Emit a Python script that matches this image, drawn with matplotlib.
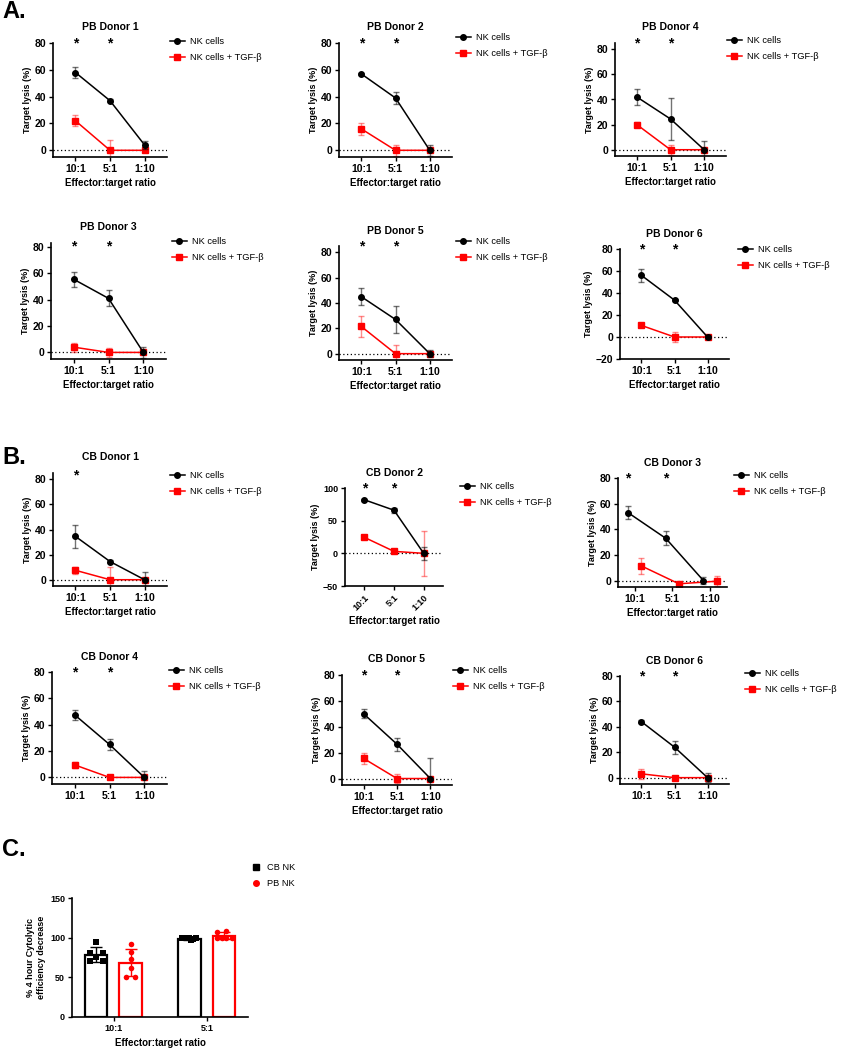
import numpy as np
import matplotlib.pyplot as plt
from matplotlib.lines import Line2D

plt.rcParams['font.family'] = ['Liberation Sans', 'DejaVu Sans']
plt.rcParams['font.weight'] = 'bold'
plt.rcParams['axes.labelweight'] = 'bold'

W, H = 843, 1050
fig = plt.figure(figsize=(W / 100, H / 100), dpi=100)

ratios = ['10:1', '5:1', '1:10']

# mean and error for NK cells and NK cells + TGF-b, per donor
pb1_nk, pb1_nk_err = [58, 37, 4], [4, 1, 3]
pb1_tgf, pb1_tgf_err = [22, 0, 0], [4, 8, 1]
pb2_nk, pb2_nk_err = [57, 39, 0], [1, 4.5, 4]
pb2_tgf, pb2_tgf_err = [16, 0, 0], [4.5, 4, 1]
pb4_nk, pb4_nk_err = [42, 24.5, 0], [6, 16.5, 7]
pb4_tgf, pb4_tgf_err = [20, 0, 0], [2, 4, 1]
pb3_nk, pb3_nk_err = [55.5, 41, 0], [5.5, 6, 4]
pb3_tgf, pb3_tgf_err = [4, 0, 0], [3.5, 3.5, 1]
pb5_nk, pb5_nk_err = [45, 27, 0], [6.5, 10.5, 3]
pb5_tgf, pb5_tgf_err = [21.5, 0, 0], [8.5, 6.5, 1]
pb6_nk, pb6_nk_err = [56, 33.5, 0], [6, 1, 0.5]
pb6_tgf, pb6_tgf_err = [10.5, 0, 0], [1.5, 4.5, 0.5]
cb1_nk, cb1_nk_err = [34.5, 14.5, 0], [9, 1, 6]
cb1_tgf, cb1_tgf_err = [7.5, 0, 0], [3, 10.5, 1]
cb2_nk, cb2_nk_err = [82, 66, 0], [1.5, 4, 10]
cb2_tgf, cb2_tgf_err = [24.5, 3, 0], [3, 3, 34]
cb3_nk, cb3_nk_err = [53, 33, 0], [5, 5.5, 3]
cb3_tgf, cb3_tgf_err = [11.5, -2.5, -0.5], [6, 1.5, 4]
cb4_nk, cb4_nk_err = [47.5, 25, 0], [4, 4.5, 5]
cb4_tgf, cb4_tgf_err = [9.5, 0, 0], [2.5, 0.5, 0.5]
cb5_nk, cb5_nk_err = [50, 26.5, 0], [3.5, 5, 15.5]
cb5_tgf, cb5_tgf_err = [15.5, 0, 0], [4, 3.5, 0.5]
cb6_nk, cb6_nk_err = [44, 24, 0], [1, 5, 3.5]
cb6_tgf, cb6_tgf_err = [3, 0, 0], [4, 1, 1]

# panel C: % decrease per donor
cb_10 = [94, 81, 81, 76, 70, 70]
pb_10 = [92, 82, 73, 62, 51, 51]
cb_5 = [100, 99, 100, 98, 99, 97]
pb_5 = [107, 109, 100, 100, 100, 100]
c_groups = ['10:1', '5:1']


def fig_rect(l, t, r, b):
    return [l / W, 1 - b / H, (r - l) / W, (b - t) / H]


def style_axes(ax, size=7.5):
    for s in ['top', 'right']:
        ax.spines[s].set_visible(False)
    for s in ['left', 'bottom']:
        ax.spines[s].set_linewidth(1.2)
    ax.tick_params(labelsize=size, width=1, length=3, pad=2)


def lysis_panel(title, nk, nk_err, tgf, tgf_err, box, ylim, yticks, stars, star_y,
                leg, xlim=(-0.65, 2.65), shift=0.0, xlabel=True, rotate=False):
    ax = fig.add_axes(fig_rect(*box))
    x = np.arange(len(ratios))
    ax.axhline(0, color='k', ls=(0, (1, 2)), lw=0.9, zorder=1)
    ax.errorbar(x + shift, tgf, yerr=tgf_err, color='#ff0000', marker='s', ms=4, lw=1.1,
                ecolor=(1, 0, 0, 0.45), elinewidth=1, capsize=2, capthick=1, zorder=2)
    ax.errorbar(x - shift, nk, yerr=nk_err, color='k', marker='o', ms=4, lw=1.1,
                ecolor=(0, 0, 0, 0.55), elinewidth=1, capsize=2, capthick=1, zorder=3)
    for i in stars:
        ax.text(x[i] - shift, star_y, '*', ha='center', va='center', fontsize=10,
                fontweight='bold')
    ax.set_xlim(*xlim)
    ax.set_ylim(*ylim)
    ax.set_yticks(yticks)
    ax.set_xticks(x)
    if rotate:
        ax.set_xticklabels(ratios, rotation=45, ha='right', rotation_mode='anchor')
        style_axes(ax, size=6.5)
    else:
        ax.set_xticklabels(ratios)
        style_axes(ax)
    ax.set_title(title, fontsize=7.5, fontweight='bold', pad=9)
    ax.set_ylabel('Target lysis (%)', fontsize=6.5, labelpad=2)
    if xlabel:
        ax.set_xlabel('Effector:target ratio', fontsize=7, labelpad=3)
    handles = [Line2D([], [], color='k', marker='o', ms=4, lw=1.1),
               Line2D([], [], color='#ff0000', marker='s', ms=4, lw=1.1)]
    fig.legend(handles, ['NK cells', 'NK cells + TGF-β'], loc='upper left',
               bbox_to_anchor=(leg[0] / W, 1 - leg[1] / H), frameon=False,
               prop={'weight': 'normal', 'size': 6.7}, handlelength=1.6,
               handletextpad=0.6, labelspacing=0.75, borderpad=0, borderaxespad=0)
    return ax


t80 = [0, 20, 40, 60, 80]

lysis_panel('PB Donor 1', pb1_nk, pb1_nk_err, pb1_tgf, pb1_tgf_err, (53, 43, 167, 157),
            (-5, 80), t80, [0, 1], 80, (170, 37))
lysis_panel('PB Donor 2', pb2_nk, pb2_nk_err, pb2_tgf, pb2_tgf_err, (339, 43, 452, 157),
            (-5, 80), t80, [0, 1], 80, (456, 33))
lysis_panel('PB Donor 4', pb4_nk, pb4_nk_err, pb4_tgf, pb4_tgf_err, (615, 43, 726, 156),
            (-5, 85), t80, [0, 1], 85, (727, 36))
lysis_panel('PB Donor 3', pb3_nk, pb3_nk_err, pb3_tgf, pb3_tgf_err, (51, 243, 166, 359),
            (-5, 83), t80, [0, 1], 80, (172, 237))
lysis_panel('PB Donor 5', pb5_nk, pb5_nk_err, pb5_tgf, pb5_tgf_err, (339, 246, 452, 360),
            (-5, 85), t80, [0, 1], 85, (456, 237))
lysis_panel('PB Donor 6', pb6_nk, pb6_nk_err, pb6_tgf, pb6_tgf_err, (620, 249, 729, 359),
            (-20, 80), [-20, 0, 20, 40, 60, 80], [0, 1], 80, (738, 245))
lysis_panel('CB Donor 1', cb1_nk, cb1_nk_err, cb1_tgf, cb1_tgf_err, (53, 473, 167, 586),
            (-5, 85), t80, [0], 83, (170, 471))
lysis_panel('CB Donor 2', cb2_nk, cb2_nk_err, cb2_tgf, cb2_tgf_err, (345, 488, 443, 586),
            (-50, 100), [-50, 0, 50, 100], [0, 1], 100, (460, 482), rotate=True)
lysis_panel('CB Donor 3', cb3_nk, cb3_nk_err, cb3_tgf, cb3_tgf_err, (618, 478, 727, 587),
            (-5, 80), t80, [0, 1], 80, (734, 471), xlim=(-0.44, 2.45), shift=0.175)
lysis_panel('CB Donor 4', cb4_nk, cb4_nk_err, cb4_tgf, cb4_tgf_err, (52, 672, 167, 784),
            (-5, 80), t80, [0, 1], 80, (169, 666), xlabel=False)
lysis_panel('CB Donor 5', cb5_nk, cb5_nk_err, cb5_tgf, cb5_tgf_err, (342, 675, 452, 785),
            (-5, 80), t80, [0, 1], 80, (453, 666))
lysis_panel('CB Donor 6', cb6_nk, cb6_nk_err, cb6_tgf, cb6_tgf_err, (620, 676, 729, 784),
            (-5, 80), t80, [0, 1], 80, (745, 669), xlabel=False)

# panel C
axc = fig.add_axes(fig_rect(72, 898, 248, 1017))
xc = np.arange(len(c_groups))
bar_w = 0.24
jit_cb = [[0, -0.3, 0.3, 0, -0.3, 0.3], [-0.32, -0.16, 0, 0.16, 0.32, 0.08]]
jit_pb = [[0, 0, 0, 0, -0.2, 0.2], [-0.3, 0.1, -0.3, -0.1, 0.12, 0.35]]
for i, (cb, pb) in enumerate([(cb_10, pb_10), (cb_5, pb_5)]):
    for vals, dx, col, mk, jit in [(cb, -0.19, 'k', 's', jit_cb[i]),
                                   (pb, 0.18, '#ff0000', 'o', jit_pb[i])]:
        m = np.mean(vals)
        sd = np.std(vals, ddof=1)
        axc.bar(xc[i] + dx, m, width=bar_w, facecolor='white', edgecolor=col,
                linewidth=1.6, zorder=2)
        axc.errorbar(xc[i] + dx, m, yerr=sd, color=col, capsize=4, elinewidth=1,
                     capthick=1, zorder=3)
        axc.scatter(xc[i] + dx + np.array(jit) * bar_w, vals, marker=mk, s=16,
                    color=col, zorder=4, linewidths=0)
axc.set_xlim(-0.45, 1.44)
axc.set_ylim(0, 150)
axc.set_yticks([0, 50, 100, 150])
axc.set_xticks(xc)
axc.set_xticklabels(c_groups)
style_axes(axc, size=6.5)
axc.set_ylabel('% 4 hour Cytolytic\nefficiency decrease', fontsize=6.5, labelpad=3)
axc.set_xlabel('Effector:target ratio', fontsize=7, labelpad=4)
c_handles = [Line2D([], [], color='k', marker='s', ms=4, lw=0),
             Line2D([], [], color='#ff0000', marker='o', ms=4, lw=0)]
fig.legend(c_handles, ['CB NK', 'PB NK'], loc='upper left',
           bbox_to_anchor=(252 / W, 1 - 863 / H), frameon=False,
           prop={'weight': 'normal', 'size': 6.7}, handlelength=0.8,
           handletextpad=0.8, labelspacing=0.75, borderpad=0, borderaxespad=0)

# panel letters
for letter, y in [('A.', 12), ('B.', 458), ('C.', 849)]:
    fig.text(2 / W, 1 - y / H, letter, fontsize=17, fontweight='bold', va='center')

fig.savefig('out.png', dpi=100)
